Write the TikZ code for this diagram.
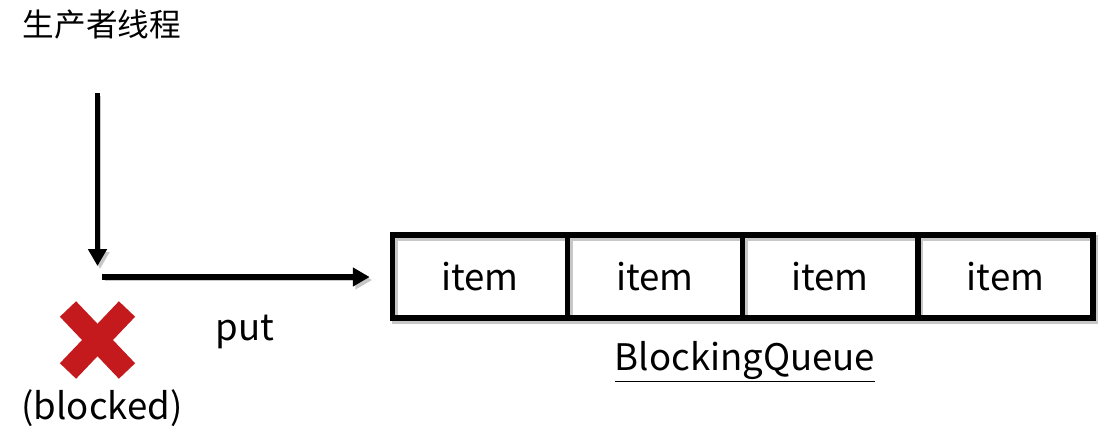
\documentclass[tikz,border=0pt]{standalone}
\usepackage{fontspec}
\setmainfont{Noto Sans CJK SC}
\usetikzlibrary{arrows.meta}
\definecolor{xred}{HTML}{C41A1E}
\tikzset{
  shadowline/.style={preaction={draw=black!22, transform canvas={shift={(2.5*0.025cm,-3*0.025cm)}}}},
  conn/.style={line width=0.13cm, -{Triangle[length=0.42cm,width=0.45cm]}, shadowline},
  cell/.style={draw, line width=0.14cm, minimum width=4.375cm, minimum height=2.075cm, inner sep=0pt, font=\fontsize{26}{30}\selectfont, shadowline},
  lbl/.style={font=\fontsize{26}{30}\selectfont, inner sep=0pt},
  cjk/.style={font=\fontsize{22.5}{26}\selectfont, inner sep=0pt}
}
\begin{document}
\begin{tikzpicture}[x=0.025cm,y=-0.025cm]
\useasboundingbox (0,0) rectangle (1118,441);
\node[cjk] (title) at (102,25) {生产者线程};
\coordinate (vtop) at (97.5,93);
\coordinate (vbot) at (97.5,266);
\draw[conn] (vtop) -- (vbot);
\node[cell] (c1) at (480,276.5) {item};
\node[cell] (c2) at (655,276.5) {item};
\node[cell] (c3) at (830,276.5) {item};
\node[cell] (c4) at (1005.5,276.5) {item};
\coordinate (hstart) at (102,277);
\draw[conn, shorten >=0.5cm] (hstart) -- (hstart -| c1.west);
\node[lbl] (put) at (245,332) {put};
\node[lbl] (blocked) at (102,408) {(blocked)};
\node[lbl, anchor=center] (bq) at (745,362) {\underline{BlockingQueue}};
\begin{scope}[line width=0.56cm, xred]
\draw (68,309) -- (127,371);
\draw (127,309) -- (68,371);
\end{scope}
\end{tikzpicture}
\end{document}
